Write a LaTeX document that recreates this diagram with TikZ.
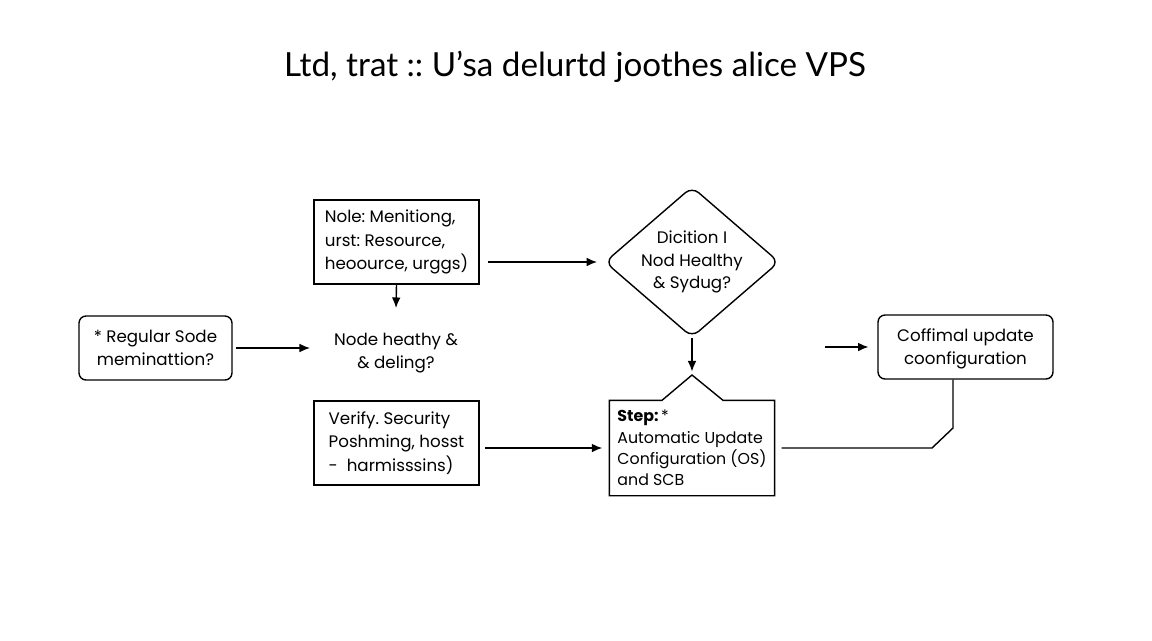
\documentclass[tikz,border=0pt]{standalone}
\usepackage{fontspec}
\setmainfont{Poppins}
\newfontfamily\titlefont{Lato}
\usetikzlibrary{shapes.geometric}
\usetikzlibrary{calc,arrows.meta}
\frenchspacing

\tikzset{
	box/.style={draw,thick,minimum width=3.3cm,minimum height=1.68cm,inner sep=2pt,
		align=left,font=\fontsize{9.5}{13.5}\selectfont},
	roundbox/.style={draw,thick,rounded corners=4pt,minimum height=1.28cm,align=center,
		font=\fontsize{9.5}{13}\selectfont},
	decision/.style={diamond,draw,thick,rounded corners=5pt,minimum width=3.24cm,
		minimum height=2.8cm,inner sep=0pt,align=center,font=\fontsize{9.5}{13}\selectfont}
}

\begin{document}
\begin{tikzpicture}[x=0.02cm,y=-0.02cm,>={Latex[length=6pt,width=5pt]}]

	\useasboundingbox[fill=white] (0,0) rectangle (1152,640);

	% Title
	\node[font=\titlefont\fontsize{18.9}{22}\selectfont] (title) at (575,67)
		{Ltd, trat :: U’sa delurtd joothes alice VPS};

	% Boxes on the left column
	\node[box] (monitor) at (396.5,242) {Nole: Menitiong,\\urst: Resource,\\heoource, urggs)};
	\node[align=center,font=\fontsize{9.5}{13}\selectfont] (health) at (396,353)
		{Node heathy \&\\\& deling?};
	\node[box] (verify) at (396.5,443) {Verify. Security\\Poshming, hosst\\- \ harmisssins)};
	\node[roundbox,minimum width=3.06cm] (regular) at (155.5,348)
		{* Regular Sode\\meminattion?};

	% Decision and step in the middle
	\node[decision,aspect=1.157] (decide) at (692,262) {Dicition I\\Nod Healthy\\\& Sydug?};
	\node[box,draw=none,minimum width=3.28cm,minimum height=1.88cm,
		font=\fontsize{9}{12.2}\selectfont] (step) at (692,448)
		{\textbf{Step:}\,*\\Automatic Update\\Configuration (OS)\\and SCB};
	\coordinate (peak) at (692,375);
	\draw[thick] (step.north west) -- ($(step.north)+(-30,0)$) -- (peak)
		-- ($(step.north)+(31,0)$) -- (step.north east) -- (step.south east)
		-- (step.south west) -- cycle;

	% Box on the right
	\node[roundbox,minimum width=3.5cm,text depth=-6pt] (confirm) at (965.5,347)
		{Coffimal update\\coonfiguration};

	% Free ends of the arrows
	\coordinate (healthtop) at (396,308);
	\coordinate (healthleft) at (310,348);
	\coordinate (confirmtail) at (825,347);
	\coordinate (turn) at (953,428);

	% Draw the arrows
	\draw[thick,->,shorten <=5pt,shorten >=4pt] (monitor.east |- decide.west) -- (decide.west);
	\draw[thick,->] (monitor.south) -- (healthtop);
	\draw[thick,->,shorten <=2pt] (regular.east) -- (healthleft);
	\draw[thick,->,shorten >=2pt] (decide.south) -- (peak);
	\draw[thick,->,shorten <=3pt,shorten >=4pt] (step.west -| verify.east) -- (step.west);
	\draw[thick,->,shorten >=5pt] (confirmtail) -- (confirmtail -| confirm.west);

	% Line from the step up to the right box
	\draw[thick,shorten <=4pt] (step.east) -- (932,448) -- (turn) -- (turn |- confirm.south);

\end{tikzpicture}
\end{document}
